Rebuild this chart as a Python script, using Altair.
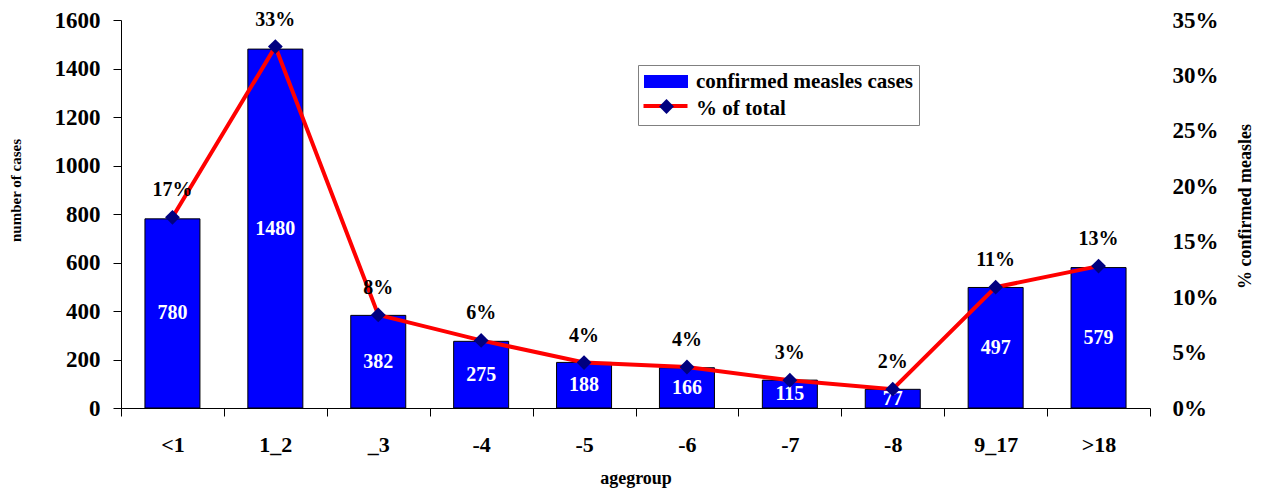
import altair as alt
import pandas as pd

agegroups = ["<1", "1_2", "_3", "-4", "-5", "-6", "-7", "-8", "9_17", ">18"]
cases = [780, 1480, 382, 275, 188, 166, 115, 77, 497, 579]
pct_total = [0.172, 0.326, 0.084, 0.061, 0.041, 0.037, 0.025, 0.017, 0.109, 0.128]
pct_labels = ["17%", "33%", "8%", "6%", "4%", "4%", "3%", "2%", "11%", "13%"]
series_names = ["confirmed measles cases", "% of total"]

FONT = "Liberation Serif"

df = pd.DataFrame({
    "agegroup": agegroups,
    "cases": cases,
    "pct": pct_total,
    "pct_label": pct_labels,
})
df["bar_series"] = series_names[0]
df["line_series"] = series_names[1]
df["marker_series"] = series_names[1] + " marker"

x_enc = alt.X(
    "agegroup:N", sort=agegroups,
    scale=alt.Scale(paddingInner=0, paddingOuter=0),
    axis=alt.Axis(title="agegroup", labelAngle=0, tickBand="extent", tickSize=8,
                  labelPadding=18, titlePadding=14, domainColor="black", tickColor="black",
                  labelFontSize=22, titleFontSize=18),
)

left_axis = alt.Axis(values=list(range(0, 1601, 200)), format="d", title="number of cases",
                     tickSize=8, labelPadding=13, domainColor="black", tickColor="black",
                     labelFontSize=23, titleFontSize=15,
                     titleX=-106, titleY=170, titleAngle=270,
                     titleAlign="center", titleBaseline="middle")
y_scale_cases = alt.Scale(domain=[0, 1600])

right_axis = alt.Axis(orient="right", format=".0%",
                      values=[0, 0.05, 0.1, 0.15, 0.2, 0.25, 0.3, 0.35],
                      domain=False, ticks=False, labelPadding=22, labelFontSize=23,
                      title="% confirmed measles", titleFontSize=18,
                      titleX=95, titleY=186, titleAngle=270,
                      titleAlign="center", titleBaseline="middle")
y_scale_pct = alt.Scale(domain=[0, 0.35])

# legend: box + labels + blue rectangle
fill_legend = alt.Legend(
    title=None, orient="none", legendX=517, legendY=45,
    fillColor="white", strokeColor="#808080", padding=6,
    symbolType="M-1.05,-0.65H3.35V0.65H-1.05Z", symbolSize=400,
    symbolStrokeWidth=0, labelOffset=31, rowPadding=5, labelLimit=500,
    labelFont=FONT, labelFontSize=21, labelFontWeight="bold", labelColor="black",
    zindex=1,
)
# legend overlay: red line
stroke_legend = alt.Legend(
    title=None, orient="none", legendX=521, legendY=74, padding=0,
    labelExpr="''", symbolType="M-1.05,0H3.35", symbolSize=400,
    symbolStrokeWidth=4, symbolStrokeColor="#FF0000", zindex=2,
)
# legend overlay: navy diamond
shape_legend = alt.Legend(
    title=None, orient="none", legendX=537, legendY=78, padding=0,
    labelExpr="''", symbolFillColor="#000080", symbolStrokeColor="#000080",
    symbolSize=220, zindex=3,
)

base = alt.Chart(df)

bars = base.mark_bar(size=55, stroke="black", strokeWidth=1).encode(
    x=x_enc,
    y=alt.Y("cases:Q", scale=y_scale_cases, axis=left_axis),
    fill=alt.Fill("bar_series:N",
                  scale=alt.Scale(domain=series_names, range=["#0000FF", "transparent"]),
                  legend=fill_legend),
)

bar_labels = base.transform_calculate(half="datum.cases / 2").mark_text(
    font=FONT, fontSize=20, fontWeight="bold", color="white", baseline="middle"
).encode(
    x=x_enc,
    y=alt.Y("half:Q", scale=y_scale_cases, axis=left_axis),
    text=alt.Text("cases:Q"),
)

line = base.mark_line(strokeWidth=4).encode(
    x=x_enc,
    y=alt.Y("pct:Q", scale=y_scale_pct, axis=right_axis),
    stroke=alt.Stroke("line_series:N",
                      scale=alt.Scale(domain=[series_names[1]], range=["#FF0000"]),
                      legend=stroke_legend),
)

points = base.mark_point(filled=True, size=220, opacity=1, color="#000080").encode(
    x=x_enc,
    y=alt.Y("pct:Q", scale=y_scale_pct, axis=right_axis),
    shape=alt.Shape("marker_series:N",
                    scale=alt.Scale(domain=[series_names[1] + " marker"], range=["diamond"]),
                    legend=shape_legend),
)

pct_text = base.mark_text(
    font=FONT, fontSize=20, fontWeight="bold", color="black", dy=-27, baseline="middle"
).encode(
    x=x_enc,
    y=alt.Y("pct:Q", scale=y_scale_pct, axis=right_axis),
    text="pct_label:N",
)

left = alt.layer(bars, bar_labels)
right = alt.layer(line, points, pct_text)

chart = alt.layer(left, right).resolve_scale(y="independent").properties(
    width=1029, height=388,
    padding={"left": 113, "top": 12, "right": 107, "bottom": 80},
    autosize=alt.AutoSizeParams(type="none"),
).configure_axis(
    labelFont=FONT, titleFont=FONT, labelFontWeight="bold", titleFontWeight="bold",
    labelColor="black", titleColor="black", grid=False,
).configure_view(stroke=None)

chart.save("out.html", embed_options={"renderer": "svg", "actions": False})
